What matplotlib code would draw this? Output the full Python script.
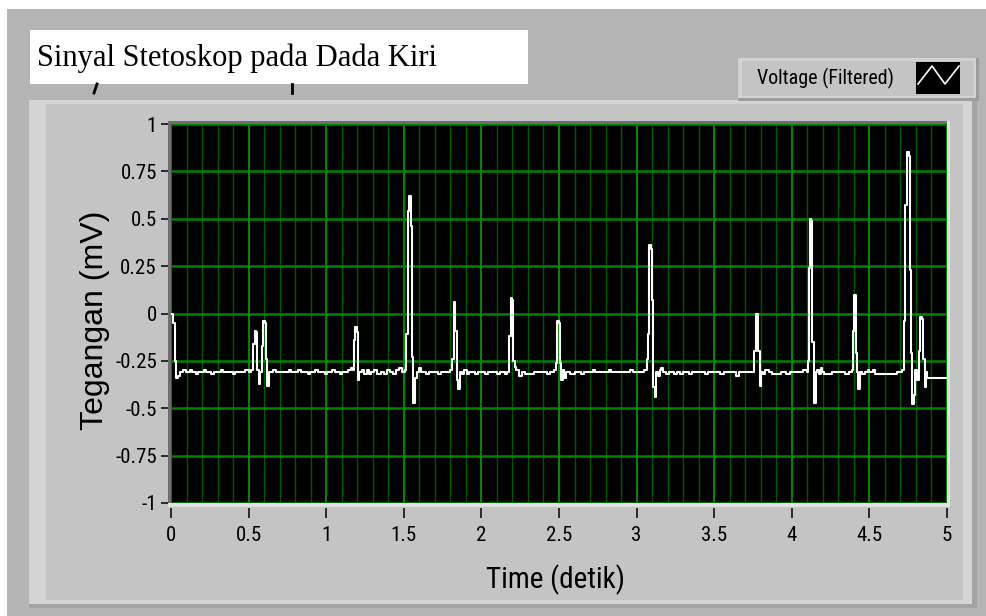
import numpy as np
import matplotlib
matplotlib.use("Agg")
import matplotlib.pyplot as plt
from matplotlib import font_manager
from matplotlib.patches import Rectangle
from matplotlib.ticker import MultipleLocator

#%% data (time in s, voltage in mV)

t = [0.000, 0.012, 0.024, 0.032, 0.045, 0.060, 0.080, 0.095, 0.120, 0.135,
     0.160, 0.175, 0.210, 0.225, 0.260, 0.275, 0.320, 0.335, 0.370, 0.400,
     0.415, 0.450, 0.480, 0.500, 0.515,
     0.530, 0.540, 0.550, 0.556, 0.565, 0.575, 0.585, 0.595, 0.605, 0.612,
     0.620, 0.630, 0.660, 0.675, 0.720, 0.760, 0.775, 0.820, 0.835, 0.880,
     0.895, 0.930, 0.945, 0.990, 1.005, 1.040, 1.055, 1.090, 1.105, 1.140,
     1.160, 1.170,
     1.180, 1.188, 1.196, 1.204, 1.214, 1.230, 1.245, 1.260, 1.275, 1.290,
     1.310, 1.330, 1.350, 1.370, 1.390, 1.410, 1.430, 1.450, 1.470, 1.490,
     1.505,
     1.515, 1.528, 1.536, 1.545, 1.553, 1.562, 1.572, 1.582, 1.595, 1.610,
     1.640, 1.660, 1.700, 1.720, 1.740, 1.780, 1.800, 1.812,
     1.822, 1.832, 1.840, 1.850, 1.860, 1.875, 1.890, 1.905, 1.920, 1.960,
     1.980, 2.020, 2.040, 2.080, 2.100, 2.120, 2.150, 2.165,
     2.178, 2.188, 2.198, 2.205, 2.215, 2.225, 2.240, 2.260, 2.280, 2.300,
     2.320, 2.340, 2.380, 2.420, 2.440, 2.470, 2.478,
     2.488, 2.498, 2.506, 2.515, 2.525, 2.535, 2.545, 2.570, 2.600, 2.640,
     2.660, 2.700, 2.720, 2.735, 2.780, 2.820, 2.835, 2.880, 2.920, 2.960,
     2.975, 3.020, 3.050, 3.065,
     3.072, 3.082, 3.092, 3.100, 3.108, 3.116, 3.124, 3.135, 3.150, 3.160,
     3.170, 3.190, 3.210, 3.240, 3.260, 3.280, 3.300, 3.340, 3.360, 3.400,
     3.440, 3.460, 3.500, 3.540, 3.560, 3.600, 3.640, 3.660, 3.700, 3.740,
     3.755,
     3.768, 3.782, 3.792, 3.800, 3.815, 3.830, 3.850, 3.870, 3.900, 3.930,
     3.960, 3.990, 4.040, 4.070, 4.095, 4.102,
     4.108, 4.115, 4.125, 4.133, 4.140, 4.146, 4.155, 4.165, 4.175, 4.185,
     4.195, 4.210, 4.240, 4.260, 4.300, 4.340, 4.370, 4.385,
     4.392, 4.402, 4.412, 4.420, 4.428, 4.438, 4.450, 4.470, 4.490, 4.500,
     4.520, 4.535, 4.560, 4.600, 4.640, 4.680, 4.710, 4.722,
     4.732, 4.742, 4.752, 4.760, 4.768, 4.775, 4.785, 4.795, 4.805, 4.818,
     4.828, 4.840, 4.848, 4.856, 4.864, 4.874, 5.000]

v = [0.00, -0.05, -0.25, -0.34, -0.33, -0.31, -0.30, -0.31, -0.30, -0.31,
     -0.32, -0.31, -0.30, -0.31, -0.32, -0.31, -0.30, -0.31, -0.31, -0.32,
     -0.31, -0.31, -0.30, -0.31, -0.30,
     -0.16, -0.09, -0.10, -0.30, -0.37, -0.31, -0.17, -0.04, -0.05, -0.24,
     -0.38, -0.31, -0.30, -0.31, -0.31, -0.30, -0.31, -0.30, -0.31, -0.32,
     -0.31, -0.30, -0.31, -0.32, -0.31, -0.30, -0.31, -0.32, -0.31, -0.30,
     -0.29, -0.30,
     -0.14, -0.07, -0.10, -0.35, -0.31, -0.30, -0.32, -0.30, -0.32, -0.31,
     -0.30, -0.32, -0.31, -0.32, -0.30, -0.31, -0.32, -0.30, -0.29, -0.31,
     -0.30,
     -0.11, 0.54, 0.62, 0.46, -0.23, -0.47, -0.34, -0.31, -0.29, -0.31,
     -0.32, -0.31, -0.31, -0.32, -0.31, -0.31, -0.30, -0.24,
     0.06, -0.09, -0.35, -0.40, -0.31, -0.32, -0.30, -0.32, -0.31, -0.32,
     -0.31, -0.32, -0.31, -0.31, -0.32, -0.31, -0.32, -0.31,
     -0.12, 0.08, 0.07, -0.25, -0.28, -0.30, -0.33, -0.31, -0.32, -0.32,
     -0.32, -0.31, -0.31, -0.32, -0.31, -0.30, -0.26,
     -0.04, -0.05, -0.26, -0.35, -0.30, -0.34, -0.31, -0.32, -0.31, -0.32,
     -0.31, -0.31, -0.30, -0.31, -0.31, -0.30, -0.31, -0.31, -0.31, -0.30,
     -0.31, -0.31, -0.30, -0.24,
     -0.11, 0.36, 0.34, 0.07, -0.39, -0.44, -0.31, -0.33, -0.30, -0.29,
     -0.31, -0.32, -0.31, -0.32, -0.31, -0.32, -0.31, -0.32, -0.31, -0.31,
     -0.32, -0.31, -0.31, -0.32, -0.31, -0.31, -0.33, -0.31, -0.31, -0.31,
     -0.20,
     0.00, -0.20, -0.38, -0.31, -0.32, -0.30, -0.31, -0.32, -0.32, -0.31,
     -0.32, -0.31, -0.31, -0.30, -0.31, -0.25,
     0.24, 0.50, 0.49, -0.15, -0.31, -0.47, -0.31, -0.30, -0.32, -0.29,
     -0.31, -0.32, -0.32, -0.31, -0.31, -0.32, -0.31, -0.30,
     -0.09, 0.10, -0.21, -0.31, -0.40, -0.31, -0.32, -0.31, -0.30, -0.31,
     -0.30, -0.32, -0.32, -0.32, -0.32, -0.31, -0.30, -0.04,
     0.57, 0.85, 0.83, 0.23, -0.21, -0.48, -0.43, -0.30, -0.35, -0.20,
     -0.02, -0.03, -0.24, -0.39, -0.31, -0.34, -0.34]

x_ticks = [0, 0.5, 1, 1.5, 2, 2.5, 3, 3.5, 4, 4.5, 5]
x_ticklabels = ['0', '0.5', '1', '1.5', '2', '2.5', '3', '3.5', '4', '4.5', '5']
y_ticks = [-1, -0.75, -0.5, -0.25, 0, 0.25, 0.5, 0.75, 1]
y_ticklabels = ['-1', '-0.75', '-0.5', '-0.25', '0', '0.25', '0.5', '0.75', '1']

title = 'Sinyal Stetoskop pada Dada Kiri'
legend_label = 'Voltage (Filtered)'

#%% pick a narrow sans if one is around (LabVIEW labels are tall and thin)

fonts = font_manager.fontManager.ttflist
names = {f.name for f in fonts}
narrow_name, narrow_stretch, shrink = 'Liberation Sans', 'normal', 1.0
for nm in ['Liberation Sans Narrow', 'Roboto Condensed', 'Open Sans Condensed',
           'Noto Sans Condensed', 'DejaVu Sans Condensed']:
    if nm in names:
        narrow_name, shrink = nm, 1.2
        break
else:
    for f in fonts:
        if f.name in ('Noto Sans', 'Roboto', 'Open Sans', 'DejaVu Sans') and \
                str(f.stretch) in ('condensed', 'semi-condensed', '75', '87.5'):
            narrow_name, narrow_stretch, shrink = f.name, 'condensed', 1.2
            break

def nfont(size):
    return dict(family=narrow_name, stretch=narrow_stretch, size=size*shrink)

#%% figure + panel background (pixel coords, y down)

W, H = 987, 616
fig = plt.figure(figsize=(W/100, H/100), dpi=100, facecolor='white')

bg = fig.add_axes([0, 0, 1, 1], zorder=-10)
bg.set_xlim(0, W)
bg.set_ylim(H, 0)
bg.axis('off')

def box(x0, y0, x1, y1, c, **kw):
    bg.add_patch(Rectangle((x0, y0), x1-x0, y1-y0, facecolor=c, edgecolor='none', **kw))

box(7, 9, W, H, '#b4b4b4')                 # front panel
box(29, 100, 977, 608, '#a4a4a4')          # graph frame shadow
box(29, 100, 972, 604, '#d4d4d4')          # highlight
box(46, 104, 963, 600, '#c4c4c4')          # graph body
box(168, 121, 950, 507, '#e2e2e2')         # plot bezel
box(168, 121, 947, 503, '#6e6e6e')

box(30, 30, 528, 84, 'white')              # title box
bg.text(37, 58, title, family=['Liberation Serif', 'DejaVu Serif'], fontsize=22,
        ha='left', va='center', color='black')
bg.plot([97, 94], [84, 93], color='black', lw=2)   # leftovers of hidden label
bg.plot([292, 292], [84, 93], color='black', lw=2)

box(738, 58, 979, 101, '#9c9c9c')          # legend
box(738, 58, 976, 98, '#d2d2d2')
box(742, 61, 974, 96, '#c4c4c4')
bg.text(757, 78, legend_label, fontdict=nfont(12), ha='left', va='center')
box(916, 62, 960, 94, 'black')
bg.plot([918, 932, 945, 959], [84, 66, 84, 66], color='white', lw=1.2)

#%% graph

ax = fig.add_axes([171/W, (H-503)/H, (947-171)/W, (503-124)/H])
ax.set_facecolor('black')
ax.plot(t, v, color='white', lw=1.5, drawstyle='steps-post', zorder=3)

ax.set_xlim(0, 5)
ax.set_ylim(-1, 1)
ax.set_xticks(x_ticks)
ax.set_xticklabels(x_ticklabels)
ax.set_yticks(y_ticks)
ax.set_yticklabels(y_ticklabels)
ax.xaxis.set_minor_locator(MultipleLocator(0.1))

ax.xaxis.grid(True, which='minor', color='#005800', lw=1.0)
ax.xaxis.grid(True, which='major', color='#009400', lw=1.3)
ax.yaxis.grid(True, which='major', color='#008200', lw=1.8)
ax.set_axisbelow(True)

for s in ax.spines.values():
    s.set_visible(False)
ax.spines['bottom'].set_position(('outward', 3.6))
ax.spines['left'].set_position(('outward', 2.2))

ax.tick_params(axis='x', which='major', direction='out', length=7.2, width=1.1,
               pad=6, colors='black')
ax.tick_params(axis='y', which='major', direction='out', length=5, width=1.1,
               pad=3, colors='black')
ax.tick_params(which='minor', length=0)
for lab in ax.get_xticklabels() + ax.get_yticklabels():
    lab.set_family(narrow_name)
    lab.set_stretch(narrow_stretch)
    lab.set_size(12.5*shrink)

fig.text(555/W, 1 - 580/H, 'Time (detik)', fontdict=nfont(17.5),
         ha='center', va='center')
fig.text(95/W, 1 - 320/H, 'Tegangan (mV)', family=['Liberation Sans', 'DejaVu Sans'],
         fontsize=23, rotation=90, ha='center', va='center')

fig.savefig('out.png', dpi=100, facecolor=fig.get_facecolor())
